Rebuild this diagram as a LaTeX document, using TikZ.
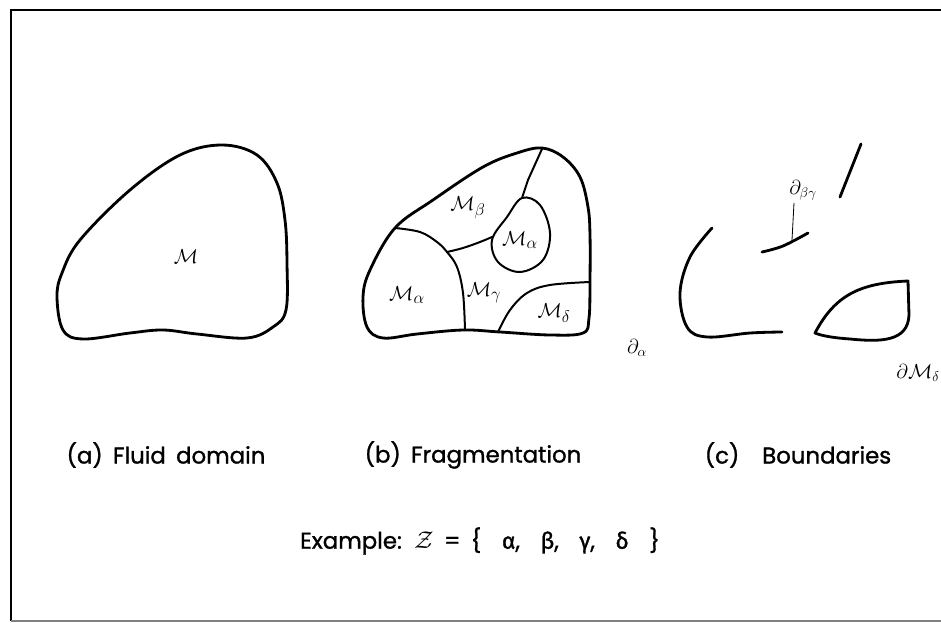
\documentclass[tikz,border=0pt]{standalone}
\usepackage{fontspec}
\setmainfont{Poppins}[FakeBold=1.2]
\newfontfamily\grk{Fira Sans}[FakeBold=1.2]
\newcommand\widesp{\spaceskip=0.45em plus 0.1em\relax}
\begin{document}
\begin{tikzpicture}[x=0.03cm,y=-0.03cm,
  outline/.style={line width=2.4pt,line join=round,line cap=round},
  inner/.style={line width=1.7pt,line join=round,line cap=round},
  thinlead/.style={line width=0.7pt},
  caption/.style={font=\fontsize{19.5}{22}\selectfont,inner sep=0pt},
  mlabel/.style={font=\fontsize{19}{21}\selectfont,inner sep=0pt},
  dlabel/.style={font=\fontsize{17}{19}\selectfont,inner sep=0pt}]
\useasboundingbox (0,0) rectangle (941,623);
% frame
\draw[line width=2pt] (941,10) -- (11,10) -- (11,621);
\draw[line width=1pt,gray] (11,621) -- (941,621);

% (a) fluid domain
\draw[outline] plot[smooth cycle,tension=0.6] coordinates {
 (222,145) (257,155) (277,183) (285,220) (287,263) (286,310) (273,327)
 (247,338) (197,334) (163,330) (130,333) (83,339) (63,330) (57,297)
 (62,273) (80,240) (130,190) (180,155)};
\node[mlabel] (Ma) at (186,257) {$\mathcal{M}$};

% (b) fragmentation
\draw[outline] plot[smooth cycle,tension=0.6] coordinates {
 (542,148) (563,157) (580,177) (588,207) (590,235) (590,280) (589,318)
 (583,333) (550,335) (500,332) (463,330) (417,334) (383,338) (367,327)
 (363,297) (370,270) (395,228) (433,200) (483,167) (517,153)};
% line from top to circle
\draw[inner] (542,149) -- (528,180) -- (522,198);
% circle region
\draw[inner] plot[smooth cycle,tension=0.6] coordinates {
 (522,198) (540,205) (550,233) (543,260) (520,272) (498,262) (492,240) (507,217)};
% line from left outer to junction and down to bottom
\coordinate (J) at (447,252);
\draw[inner] plot[smooth,tension=0.6] coordinates {
 (395,228) (420,232) (437,242) (447,252) (457,267) (463,293) (465,330)};
% junction to circle
\draw[inner] plot[smooth,tension=0.6] coordinates {
 (447,252) (463,248) (480,242) (492,237)};
% delta line
\draw[inner] plot[smooth,tension=0.6] coordinates {
 (590,282) (550,285) (527,293) (510,310) (498,332)};
\node[mlabel] (Mb) at (468,208) {$\mathcal{M}_\beta$};
\node[mlabel] (Mac) at (520,240) {$\mathcal{M}_\alpha$};
\node[mlabel] (Mal) at (407,295) {$\mathcal{M}_\alpha$};
\node[mlabel] (Mg) at (484,293) {$\mathcal{M}_\gamma$};
\node[mlabel] (Md) at (554,313) {$\mathcal{M}_\delta$};

% (c) boundaries
\draw[outline] plot[smooth,tension=0.6] coordinates {
 (712,228) (690,257) (680,293) (687,327) (707,337) (750,333) (782,332)};
\draw[outline] plot[smooth,tension=0.6] coordinates {
 (762,252) (783,246) (808,233)};
\draw[outline] (840,197) -- (861,144);
\draw[outline] (815,333) .. controls (835,295) and (860,283) .. (908,281)
  -- (909,315) .. controls (908,342) and (880,342) .. (850,339)
  .. controls (835,338) and (822,336) .. (815,333) -- cycle;
\node[dlabel] (dbg) at (803,190) {$\partial_{\beta\gamma}$};
\coordinate (lead) at (792,240);
\draw[thinlead] (794,203) -- (lead);
\node[dlabel] (da) at (637,348) {$\partial_\alpha$};
\node[dlabel] (dMd) at (918,373) {$\partial\mathcal{M}_\delta$};

% captions
\node[caption] (ca) at (166,455) {\widesp (a) Fluid domain};
\node[caption] (cb) at (473,455) {\widesp (b) Fragmentation};
\node[caption] (cc) at (798,455) {\widesp (c)\quad Boundaries};
\node[caption] (ex) at (480,541) {\widesp Example: $\mathcal{Z}$ = \{ \ {\grk α}, \ {\grk β}, \ {\grk γ}, \ {\grk δ} \ \}};
\end{tikzpicture}
\end{document}
